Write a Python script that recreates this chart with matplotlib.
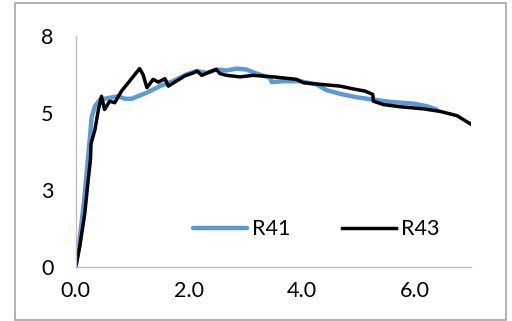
import matplotlib
matplotlib.use("Agg")
import matplotlib.pyplot as plt
from matplotlib.patches import Rectangle

r41_x = [0.0, 0.07, 0.15, 0.22, 0.26, 0.28, 0.34, 0.43, 0.60, 0.75, 0.87, 0.99, 1.25, 1.49,
         1.72, 1.96, 2.14, 2.32, 2.49, 2.67, 2.85, 3.02, 3.20, 3.44, 3.47, 3.67, 3.97, 4.27,
         4.44, 4.68, 4.97, 5.27, 5.56, 5.98, 6.21, 6.39]
r41_y = [0.0, 0.9, 2.2, 3.6, 4.4, 4.85, 5.22, 5.43, 5.49, 5.54, 5.46, 5.46, 5.65, 5.87,
         6.03, 6.25, 6.36, 6.30, 6.41, 6.38, 6.44, 6.41, 6.28, 6.14, 6.00, 6.03, 6.03, 5.92,
         5.74, 5.62, 5.51, 5.43, 5.36, 5.30, 5.22, 5.11]

r43_x = [0.0, 0.07, 0.16, 0.22, 0.26, 0.27, 0.34, 0.40, 0.455, 0.51, 0.60, 0.69, 0.81, 0.93,
         1.13, 1.19, 1.26, 1.37, 1.46, 1.58, 1.64, 1.78, 1.93, 2.08, 2.15, 2.23, 2.37, 2.49,
         2.55, 2.67, 2.91, 3.14, 3.50, 3.91, 4.03, 4.38, 4.68, 4.91, 5.12, 5.26, 5.27, 5.45,
         5.74, 6.16, 6.45, 6.75, 7.01]
r43_y = [0.0, 0.65, 1.74, 2.83, 3.48, 4.0, 4.46, 5.1, 5.54, 5.11, 5.38, 5.33, 5.71, 5.98,
         6.44, 6.25, 5.82, 6.09, 6.00, 6.11, 5.87, 6.03, 6.20, 6.30, 6.36, 6.22, 6.33, 6.41,
         6.28, 6.22, 6.17, 6.22, 6.17, 6.09, 5.98, 5.92, 5.87, 5.78, 5.71, 5.60, 5.38, 5.27,
         5.20, 5.13, 5.05, 4.91, 4.62]

y_ticks = [0, 2.5, 5, 7.5]
y_tick_labels = ["0", "3", "5", "8"]
x_ticks = [0, 2, 4, 6]
x_tick_labels = ["0.0", "2.0", "4.0", "6.0"]

plt.rcParams['font.family'] = ['Lato', 'DejaVu Sans']

fig = plt.figure(figsize=(5.12, 3.21), dpi=100)
ax = fig.add_axes([0.148, 0.169, 0.772, 0.719])

ax.plot(r41_x, r41_y, color="#5B9BD5", lw=3.2, label="R41", solid_capstyle="round",
        solid_joinstyle="round")
ax.plot(r43_x, r43_y, color="black", lw=2.5, label="R43", solid_joinstyle="round")

ax.set_xlim(0, 7)
ax.set_ylim(0, 7.5)
ax.set_yticks(y_ticks)
ax.set_yticklabels(y_tick_labels)
ax.set_xticks(x_ticks)
ax.set_xticklabels(x_tick_labels)
ax.tick_params(length=0, labelsize=15.5, colors="black")
ax.tick_params(axis="y", pad=16)
ax.tick_params(axis="x", pad=10)

for s in ["top", "right"]:
    ax.spines[s].set_visible(False)
for s in ["left", "bottom"]:
    ax.spines[s].set_color("#bfbfbf")
    ax.spines[s].set_linewidth(1.0)

leg = ax.legend(loc="center left", bbox_to_anchor=(0.296, 0.163), ncol=2, frameon=False,
                fontsize=15.5, handlelength=2.5, handletextpad=0.25, columnspacing=2.4,
                borderaxespad=0, borderpad=0)

fig.patches.append(Rectangle((14.5 / 512, 1 - 320 / 321), (506 - 14.5) / 512, (317) / 321,
                             transform=fig.transFigure, fill=False, edgecolor="#a6a6a6",
                             lw=1.2))

fig.savefig("out.png", dpi=100)
